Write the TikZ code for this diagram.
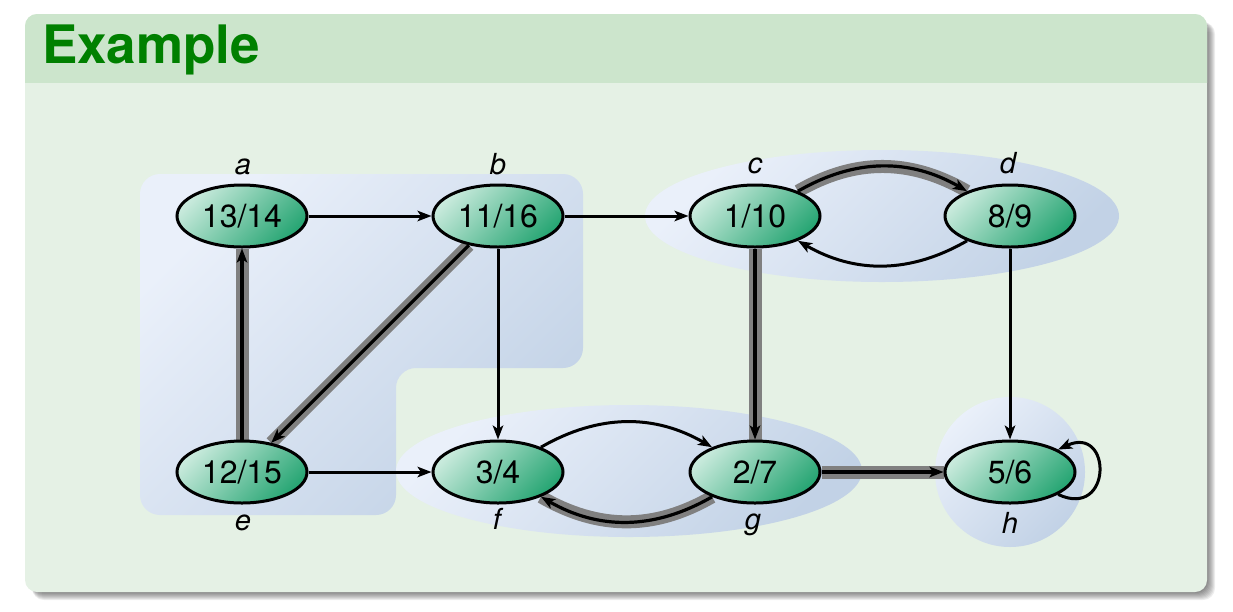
\documentclass[tikz,border=0pt]{standalone}
\usepackage{fontspec}
\setmainfont{TeX Gyre Heros}
\usetikzlibrary{shapes.geometric,arrows.meta}
\pgfdeclarelayer{back}
\pgfdeclarelayer{edgelayer}
\pgfsetlayers{back,edgelayer,main}
\definecolor{bodybg}{RGB}{229,241,229}
\definecolor{titlebg}{RGB}{204,229,204}
\definecolor{titlegreen}{RGB}{0,128,0}
\definecolor{nodelight}{RGB}{200,234,220}
\definecolor{nodedark}{RGB}{40,166,116}
\definecolor{grplight}{RGB}{234,240,250}
\definecolor{grpdark}{RGB}{194,210,230}
\definecolor{treegray}{RGB}{128,128,128}
\begin{document}
\begin{tikzpicture}[x=1pt,y=-1pt,
  vertex/.style={ellipse, draw=black, line width=3pt, minimum width=130pt, minimum height=62pt,
    inner sep=0pt, top color=nodelight, bottom color=nodedark, shading angle=45,
    font=\fontsize{32}{36}\selectfont},
  vlabel/.style={anchor=base, inner sep=0pt, font=\fontsize{29}{34}\selectfont\itshape},
  grp/.style={top color=grplight, bottom color=grpdark, shading angle=45},
  thin/.style={draw=black, line width=3pt, -{Stealth[length=14pt,width=10.5pt,inset=3.5pt]}},
  treebg/.style={draw=treegray, line width=13pt},
  treefg/.style={draw=black, line width=3.2pt, -{Stealth[length=14pt,width=10.5pt,inset=3.5pt]}}
]
\useasboundingbox (0,0) rectangle (1233,611);
\begin{pgfonlayer}{back}
  % shadow
  \foreach \k in {1,...,8} {
    \fill[black, opacity=0.07, rounded corners=12pt] (32,22) rectangle (1207+\k,592+\k);
  }
  % block body
  \fill[bodybg, rounded corners=12pt] (25,14) rectangle (1207,592);
  \begin{scope}
    \clip (0,0) rectangle (1233,82);
    \fill[titlebg, rounded corners=12pt] (25,14) rectangle (1207,592);
  \end{scope}
  % groups
  \shade[grp, rounded corners=20pt] (140,174) -- (583,174) -- (583,368) -- (396,368) -- (396,515) -- (140,515) -- cycle;
  \shade[grp] (882,216) ellipse[x radius=237pt, y radius=66pt];
  \shade[grp] (629,471) ellipse[x radius=233pt, y radius=66pt];
  \shade[grp] (1010,472) circle[radius=75pt];
\end{pgfonlayer}

\node[anchor=base west, inner sep=0pt, text=titlegreen, font=\fontsize{53}{60}\selectfont\bfseries] (title) at (42,63) {Example};

\node[vertex] (a) at (242,216) {13/14};
\node[vertex] (b) at (498,216) {11/16};
\node[vertex] (c) at (755,216) {1/10};
\node[vertex] (d) at (1010,216) {8/9};
\node[vertex] (e) at (242,472) {12/15};
\node[vertex] (f) at (498,472) {3/4};
\node[vertex] (g) at (755,472) {2/7};
\node[vertex] (h) at (1010,472) {5/6};

\node[vlabel] (la) at (243,174) {a};
\node[vlabel] (lb) at (498,174) {b};
\node[vlabel] (lc) at (755,173) {c};
\node[vlabel] (ld) at (1008,173) {d};
\node[vlabel] (le) at (243,530) {e};
\node[vlabel] (lf) at (497,529) {f};
\node[vlabel] (lg) at (753,529) {g};
\node[vlabel] (lh) at (1010,533) {h};

\begin{pgfonlayer}{edgelayer}
  % tree edges, gray underlay
  \draw[treebg] (e) -- (a);
  \draw[treebg] (b) -- (e);
  \draw[treebg] (c) -- (g);
  \draw[treebg] (g) -- (h);
  \draw[treebg] (c) to[bend left=30] (d);
  \draw[treebg] (g) to[bend left=30] (f);
  % tree edges, black
  \draw[treefg] (e) -- (a);
  \draw[treefg] (b) -- (e);
  \draw[treefg] (c) -- (g);
  \draw[treefg] (g) -- (h);
  \draw[treefg] (c) to[bend left=30] (d);
  \draw[treefg] (g) to[bend left=30] (f);
  % other edges
  \draw[thin] (a) -- (b);
  \draw[thin] (b) -- (c);
  \draw[thin] (e) -- (f);
  \draw[thin] (b) -- (f);
  \draw[thin] (d) -- (h);
  \draw[thin] (d) to[bend left=30] (c);
  \draw[thin] (f) to[bend left=30] (g);
  \draw[thin] (h) to[out=-25,in=25,distance=60pt] (h);
\end{pgfonlayer}
\end{tikzpicture}
\end{document}
